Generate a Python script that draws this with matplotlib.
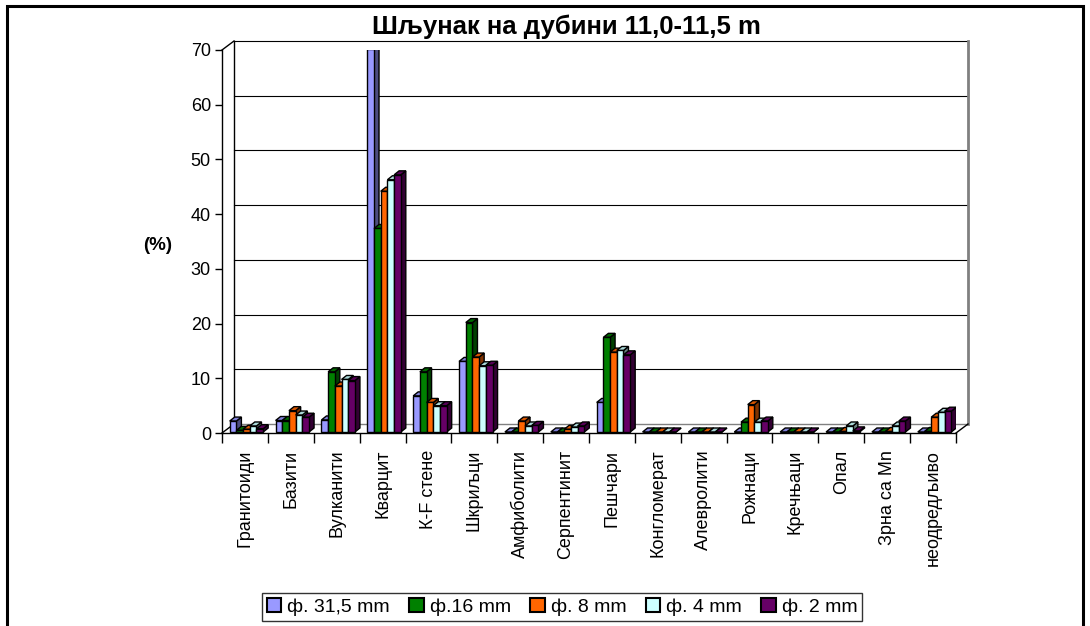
import matplotlib
matplotlib.use('Agg')
import matplotlib.pyplot as plt
from matplotlib.patches import Polygon, Patch, Rectangle
import numpy as np

plt.rcParams['font.family'] = ['Liberation Sans', 'DejaVu Sans']

categories = ['Гранитоиди', 'Базити', 'Вулканити', 'Кварцит', 'К-F стене', 'Шкриљци',
              'Амфиболити', 'Серпентинит', 'Пешчари', 'Конгломерат', 'Алевролити',
              'Рожнаци', 'Кречњаци', 'Опал', 'Зрна са Mn', 'неодредљиво']
series_names = ['ф. 31,5 mm', 'ф.16 mm', 'ф. 8 mm', 'ф. 4 mm', 'ф. 2 mm']
f31_5 = [2.0, 2.1, 2.2, 70.0, 6.6, 12.9, 0, 0, 5.4, 0, 0, 0, 0, 0, 0, 0]
f16 = [0.3, 2.1, 11.0, 37.2, 11.0, 20.0, 0, 0, 17.3, 0, 0, 1.8, 0, 0, 0, 0.1]
f8 = [0.5, 3.9, 8.4, 44.0, 5.4, 13.7, 2.0, 0.5, 14.6, 0, 0, 5.0, 0, 0.1, 0.1, 2.7]
f4 = [1.1, 3.1, 9.6, 46.1, 4.8, 12.1, 1.1, 0.9, 14.9, 0, 0, 1.8, 0, 1.1, 1.1, 3.6]
f2 = [0.6, 2.7, 9.4, 47.0, 4.8, 12.2, 1.2, 1.1, 14.1, 0, 0, 2.0, 0, 0.2, 2.0, 3.8]
series = [f31_5, f16, f8, f4, f2]

# front / top / side colours (excel-ish 3d look)
front = ['#9999FF', '#008000', '#FF6600', '#CCFFFF', '#660066']
top = ['#8080D8', '#006A00', '#D85600', '#AAD8D8', '#560056']
side = ['#4D4D80', '#004000', '#803300', '#668080', '#330033']

W, H = 1090, 626
fig = plt.figure(figsize=(W / 100, H / 100), dpi=100)
ax_l, ax_r, ax_b, ax_t = 222, 956, 433, 50
ax = fig.add_axes([ax_l / W, (H - ax_b) / H, (ax_r - ax_l) / W, (ax_b - ax_t) / H])

n = len(categories)
ymax = 70
ax.set_xlim(-0.5, n - 0.5)
ax.set_ylim(0, ymax)
px_x = (ax_r - ax_l) / n
px_y = (ax_b - ax_t) / ymax

# wall depth and bar depth in data units
OX, OY = 12 / px_x, 9 / px_y
BDX, BDY = 5 / px_x, 4 / px_y
BX0, BY0 = 1.5 / px_x, 1 / px_y
bw = 6.7 / px_x

x = np.arange(n)
kw = dict(clip_on=False, color='black', lw=1)

# back wall
for v in range(10, ymax + 1, 10):
    ax.plot([-0.5 + OX, n - 0.5 + OX], [v + OY, v + OY], color='black', lw=0.8, zorder=0.5, clip_on=False)
ax.plot([-0.5 + OX, n - 0.5 + OX], [OY, OY], color='#808080', lw=1, zorder=0.5, clip_on=False)
ax.plot([n - 0.5 + OX, n - 0.5 + OX], [OY, ymax + OY], color='#808080', lw=2, zorder=0.5, clip_on=False)
ax.plot([-0.5 + OX, -0.5 + OX], [OY, ymax + OY], zorder=0.6, **kw)
# left wall
ax.plot([-0.5, -0.5], [0, ymax], zorder=0.6, **kw)
ax.plot([-0.5, -0.5 + OX], [ymax, ymax + OY], zorder=0.6, **kw)
ax.plot([-0.5, -0.5 + OX], [0, OY], zorder=0.6, **kw)
# floor
ax.plot([-0.5, n - 0.5], [0, 0], zorder=0.6, **kw)
ax.plot([n - 0.5, n - 0.5 + OX], [0, OY], zorder=0.6, **kw)

# bars, drawn left to right so that later fronts hide earlier sides
for j, vals in enumerate(series):
    x0 = x - 2.5 * bw + j * bw + BX0
    bars = ax.bar(x0, vals, width=bw, bottom=BY0, align='edge', color=front[j],
                  edgecolor='black', linewidth=1)
    for i, (b, h) in enumerate(zip(bars, vals)):
        z = 2 + i * 0.1 + j * 0.01
        b.set_zorder(z + 0.005)
        xl = x0[i]
        xr = xl + bw
        yt = BY0 + h
        ax.add_patch(Polygon([(xr, BY0), (xr + BDX, BY0 + BDY), (xr + BDX, yt + BDY), (xr, yt)],
                             closed=True, facecolor=side[j], edgecolor='black', lw=1, zorder=z))
        ax.add_patch(Polygon([(xl, yt), (xl + BDX, yt + BDY), (xr + BDX, yt + BDY), (xr, yt)],
                             closed=True, facecolor=top[j], edgecolor='black', lw=1, zorder=z + 0.002))

for s in ax.spines.values():
    s.set_visible(False)
ax.set_facecolor('none')

ax.set_yticks(range(0, ymax + 1, 10))
ax.tick_params(axis='y', direction='out', length=5, width=1, pad=3, labelsize=13)
ax.set_xticks(x)
ax.set_xticklabels(categories, rotation=90, fontsize=13)
ax.tick_params(axis='x', length=0, pad=12)
ax.set_xticks(np.arange(-0.5, n, 1), minor=True)
ax.tick_params(axis='x', which='minor', direction='out', length=7, width=1)

fig.text(566 / W, (H - 27) / H, 'Шљунак на дубини 11,0-11,5 m', ha='center', va='center',
         fontsize=18.5, fontweight='bold')
fig.text(158 / W, (H - 245) / H, '(%)', ha='center', va='center', fontsize=13.5, fontweight='bold')

handles = [Patch(facecolor=front[j], edgecolor='black', lw=1.5) for j in range(5)]
leg = fig.legend(handles, series_names, loc='center', bbox_to_anchor=(562 / W, (H - 607) / H),
                 ncol=5, fontsize=14, frameon=True, fancybox=False, handlelength=0.75,
                 handleheight=0.75, handletextpad=0.3, columnspacing=1.0, borderpad=0.25,
                 borderaxespad=0)
leg.get_frame().set_edgecolor('black')
leg.get_frame().set_linewidth(1)

# outer chart frame
fig.patches.append(Rectangle((7 / W, -0.01), (1083 - 7) / W, (H - 6) / H + 0.01,
                             transform=fig.transFigure, fill=False, edgecolor='black', lw=2.2))

fig.savefig('out.png', dpi=100)
